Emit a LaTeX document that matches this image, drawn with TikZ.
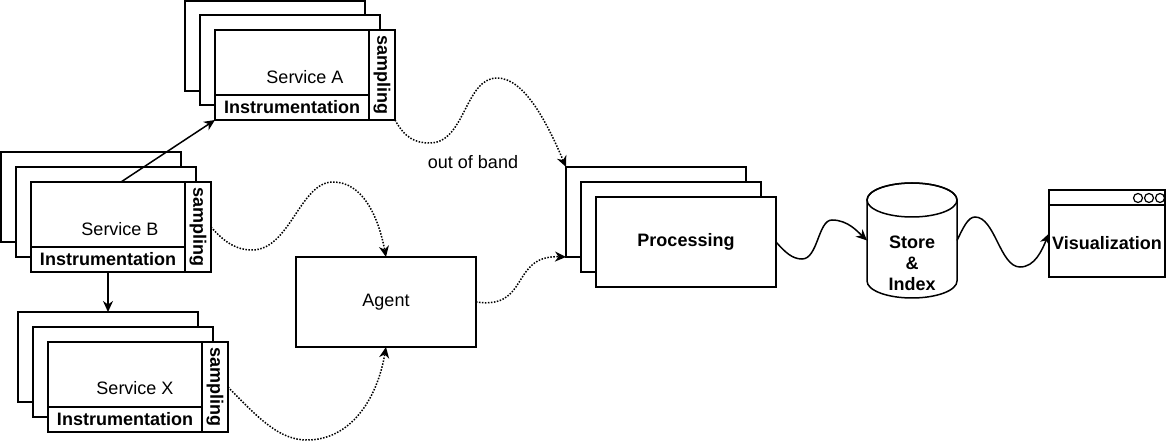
\documentclass[tikz,border=0pt]{standalone}
\usepackage{fontspec}
\setmainfont{Liberation Sans}
\usetikzlibrary{arrows.meta,calc}
\begin{document}
\begin{tikzpicture}[x=1pt,y=-1pt,
  box/.style={draw, line width=1.5pt, fill=white, inner sep=0pt, outer sep=0pt, anchor=north west},
  stackbox/.style={box, minimum width=180pt, minimum height=90pt},
  mainbox/.style={box, minimum width=154pt, minimum height=65pt},
  instbox/.style={box, minimum width=154pt, minimum height=25pt, font=\fontsize{18}{21}\selectfont\bfseries},
  sampbox/.style={box, minimum width=26pt, minimum height=90pt},
  samptxt/.style={rotate=-90, font=\fontsize{18}{21}\selectfont\bfseries, inner sep=0pt},
  txt/.style={font=\fontsize{18}{21}\selectfont, inner sep=0pt},
  btxt/.style={font=\fontsize{18}{21}\selectfont\bfseries, inner sep=0pt},
  solidarrow/.style={line width=1.5pt, -{Stealth[length=11pt, width=10pt, inset=3.5pt]}},
  dotarrow/.style={line width=1.5pt, dash pattern=on 1.5pt off 1.5pt, -{Stealth[length=11pt, width=10pt, inset=3.5pt]}},
]
\useasboundingbox (0,0) rectangle (1170,443);

% Service A stack
\node[stackbox] (aback) at (185,1) {};
\node[stackbox] (amid) at (200,15) {};
\node[mainbox] (amain) at (215,30) {};
\node[instbox] (ainst) at (215,95) {Instrumentation};
\node[sampbox] (asamp) at (369,30) {};
\node[samptxt] (asampt) at (asamp.center) {sampling};
\node[txt] (alabel) at (305,77) {Service A};

% Service B stack
\node[stackbox] (bback) at (1,152) {};
\node[stackbox] (bmid) at (16,167) {};
\node[mainbox] (bmain) at (31,182) {};
\node[instbox] (binst) at (31,247) {Instrumentation};
\node[sampbox] (bsamp) at (185,182) {};
\node[samptxt] (bsampt) at (bsamp.center) {sampling};
\node[txt] (blabel) at (120,229) {Service B};

% Service X stack
\node[stackbox] (xback) at (18,312) {};
\node[stackbox] (xmid) at (33,327) {};
\node[mainbox] (xmain) at (48,342) {};
\node[instbox] (xinst) at (48,407) {Instrumentation};
\node[sampbox] (xsamp) at (202,342) {};
\node[samptxt] (xsampt) at (xsamp.center) {sampling};
\node[txt] (xlabel) at (135,388) {Service X};

% Agent
\node[stackbox, font=\fontsize{18}{21}\selectfont] (agent) at (296,257) {Agent};

% Processing stack
\node[stackbox] (pback) at (566,167) {};
\node[stackbox] (pmid) at (581,182) {};
\node[stackbox, font=\fontsize{18}{21}\selectfont\bfseries] (pfront) at (596,197) {Processing};

% Store & Index cylinder
\node[minimum width=90pt, minimum height=115pt, inner sep=0pt, outer sep=0pt] (store) at (912,240.5) {};
\draw[line width=1.5pt, fill=white] (867,200) -- (867,281) arc[start angle=180, end angle=360, x radius=45pt, y radius=17pt] -- (957,200) arc[start angle=0, end angle=180, x radius=45pt, y radius=17pt] -- cycle;
\draw[line width=1.5pt] (912,200) ellipse [x radius=45pt, y radius=17pt];
\node[btxt] (st1) at (912,242.5) {Store};
\node[btxt] (st2) at (912,263) {\&};
\node[btxt] (st3) at (912,284) {Index};

% Visualization window
\node[box, minimum width=116pt, minimum height=87pt] (vis) at (1049,190) {};
\draw[line width=1.5pt] (1049,205) -- (1165,205);
\foreach \cx in {1138,1149,1160} \draw[line width=1.2pt] (\cx,198) circle[radius=4.5pt];
\node[btxt] (vislabel) at (1107,243) {Visualization};

% out of band label
\node[txt] (oob) at (473,162) {out of band};

% solid connectors
\draw[solidarrow] ([xshift=13pt]bmain.north) -- (ainst.south west);
\draw[solidarrow] (binst.south) -- (binst.south |- xback.north);

% dotted curved connectors
\draw[dotarrow] (asamp.south east) .. controls (405,138) and (415,143) .. (430,143)
  .. controls (465,143) and (465,78) .. (497,78)
  .. controls (525,78) and (548,125) .. (pback.north west);
\draw[dotarrow] (bsamp.east) .. controls (225,243) and (237,250) .. (252,250)
  .. controls (290,250) and (300,182) .. (333,182)
  .. controls (362,182) and (378,215) .. (agent.north);
\draw[dotarrow] (xsamp.east) .. controls (260,420) and (280,440) .. (307,440)
  .. controls (350,440) and (377,400) .. (agent.south);
\draw[dotarrow] (agent.east) .. controls (530,310) and (510,255) .. (pback.south west);

% solid curved connectors
\draw[solidarrow] (pfront.east) .. controls (785,252) and (792,259) .. (802,259)
  .. controls (818,259) and (818,220) .. (832,220)
  .. controls (848,220) and (858,232) .. (store.west);
\draw[solidarrow] (store.east) .. controls (963,228) and (968,217) .. (975,217)
  .. controls (995,217) and (1000,267) .. (1020,267)
  .. controls (1035,267) and (1042,250) .. (vis.west);
\end{tikzpicture}
\end{document}
